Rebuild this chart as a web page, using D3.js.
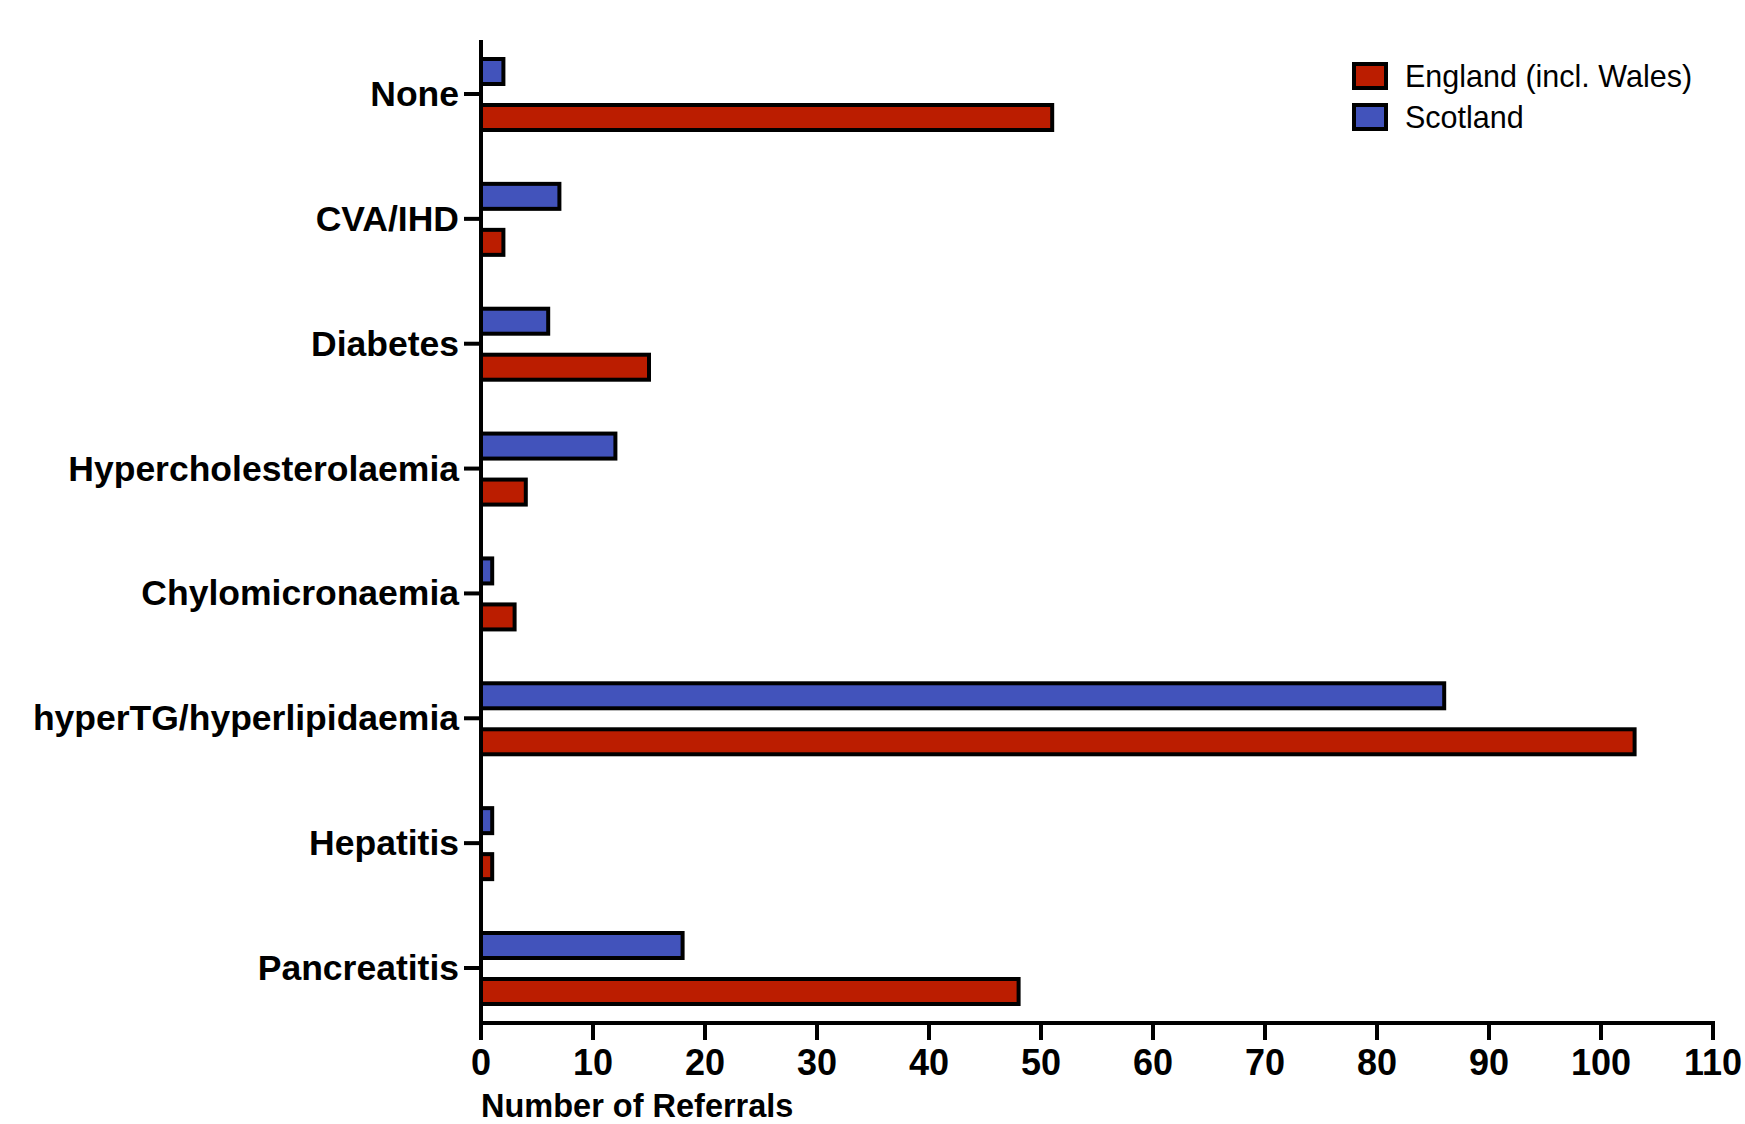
<!DOCTYPE html>
<html><head><meta charset="utf-8">
<script src="https://cdn.jsdelivr.net/npm/d3@7"></script>
<style>body{margin:0;background:#fff}svg{display:block}</style>
</head><body>
<script>
const categories = ["None","CVA/IHD","Diabetes","Hypercholesterolaemia","Chylomicronaemia","hyperTG/hyperlipidaemia","Hepatitis","Pancreatitis"];
const scotland = [2,7,6,12,1,86,1,18];
const england  = [51,2,15,4,3,103,1,48];
const seriesNames = ["England (incl. Wales)","Scotland"];
const seriesColors = ["#bb1d00","#4253bb"];
const xTicks = [0,10,20,30,40,50,60,70,80,90,100,110];
const xTitle = "Number of Referrals";

const W=1745,H=1124;
const svg=d3.select("body").append("svg").attr("width",W).attr("height",H);
const x=d3.scaleLinear().domain([0,110]).range([481,1713]);
const y=d3.scalePoint().domain(categories).range([94,968]);
const font="'Liberation Sans', Arial, Helvetica, sans-serif";

// bars
const g=svg.append("g");
categories.forEach((c,i)=>{
  const cy=y(c);
  g.append("rect").attr("x",x(0)).attr("y",cy-35).attr("width",x(scotland[i])-x(0)).attr("height",25)
   .attr("fill",seriesColors[1]).attr("stroke","#000").attr("stroke-width",4);
  g.append("rect").attr("x",x(0)).attr("y",cy+11).attr("width",x(england[i])-x(0)).attr("height",25)
   .attr("fill",seriesColors[0]).attr("stroke","#000").attr("stroke-width",4);
});

// y axis
svg.append("line").attr("x1",x(0)).attr("x2",x(0)).attr("y1",40).attr("y2",1025).attr("stroke","#000").attr("stroke-width",4);
categories.forEach(c=>{
  svg.append("line").attr("x1",464).attr("x2",x(0)).attr("y1",y(c)).attr("y2",y(c)).attr("stroke","#000").attr("stroke-width",4);
  svg.append("text").attr("x",459).attr("y",y(c)+12).attr("text-anchor","end")
    .attr("font-family",font).attr("font-weight","bold").attr("font-size",35.5).text(c);
});

// x axis
const baseY=1023;
svg.append("line").attr("x1",x(0)-2).attr("x2",x(110)+2).attr("y1",baseY).attr("y2",baseY).attr("stroke","#000").attr("stroke-width",4);
xTicks.forEach(t=>{
  svg.append("line").attr("x1",x(t)).attr("x2",x(t)).attr("y1",baseY).attr("y2",baseY+17).attr("stroke","#000").attr("stroke-width",4);
  svg.append("text").attr("x",x(t)).attr("y",1075).attr("text-anchor","middle")
    .attr("font-family",font).attr("font-weight","bold").attr("font-size",36).text(t);
});
svg.append("text").attr("x",481).attr("y",1117).attr("font-family",font).attr("font-weight","bold")
  .attr("font-size",32.5).text(xTitle);

// legend
seriesNames.forEach((n,i)=>{
  const ly=64+i*41;
  svg.append("rect").attr("x",1354).attr("y",ly).attr("width",32).attr("height",24)
    .attr("fill",seriesColors[i]).attr("stroke","#000").attr("stroke-width",4);
  svg.append("text").attr("x",1405).attr("y",ly+23).attr("font-family",font).attr("font-size",30.5).text(n);
});
</script>
</body></html>
